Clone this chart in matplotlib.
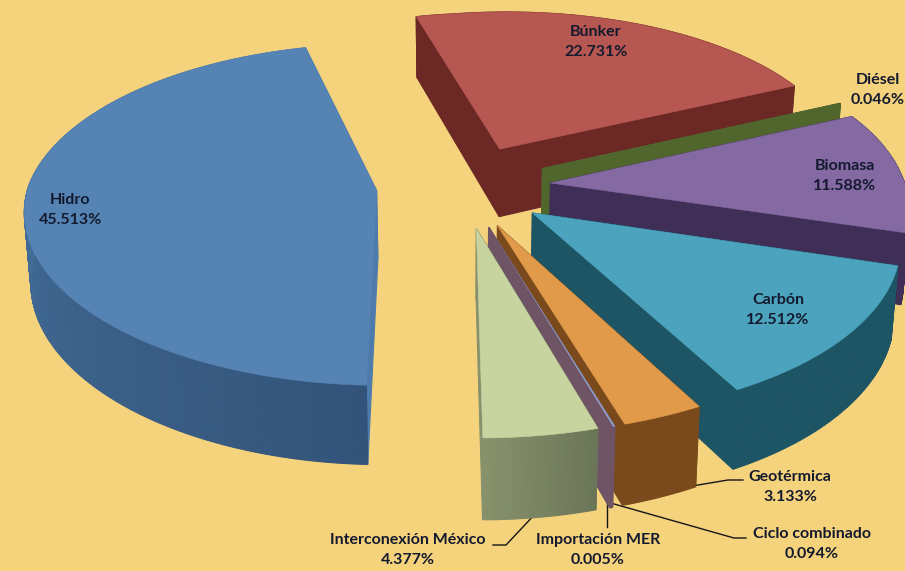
"""Exploded 3D pie of generation by source, drawn by hand on a pixel-sized axes."""

from __future__ import annotations

import matplotlib

matplotlib.use("Agg")
import matplotlib.colors as mcolors
import matplotlib.pyplot as plt
import numpy as np
from matplotlib.patches import Polygon

# shares in pie order, clockwise from the start angle
names = [
    "Búnker",
    "Diésel",
    "Biomasa",
    "Carbón",
    "Geotérmica",
    "Ciclo combinado",
    "Importación MER",
    "Interconexión México",
    "Hidro",
]
shares = [22.731, 0.046, 11.588, 12.512, 3.133, 0.094, 0.005, 4.377, 45.513]

BG = "#f5d27c"
TEXT = "#141a2e"

# name: top colour, wall colour at clockwise start, wall colour at clockwise end
STYLE = {
    "Búnker": ("#b65751", "#6b2824", "#6b2824"),
    "Diésel": ("#50662c", "#50662c", "#50662c"),
    "Biomasa": ("#8469a3", "#3f2f57", "#3f2f57"),
    "Carbón": ("#4ba3bd", "#1d5565", "#1d5565"),
    "Geotérmica": ("#e09a4a", "#7a4a1c", "#7a4a1c"),
    "Ciclo combinado": ("#8f9cc6", "#6f5466", "#6f5466"),
    "Importación MER": ("#6f5466", "#6f5466", "#6f5466"),
    "Interconexión México": ("#c7d4a0", "#6b7558", "#87926c"),
    "Hidro": ("#5583b4", "#33547a", "#5080ae"),
}
# the flat cut faces of Hidro catch the light, unlike its rim
CUT_FACE = {"Hidro": "#4d7cac"}

# painter's order, back to front
DRAW_ORDER = [
    "Hidro",
    "Búnker",
    "Diésel",
    "Biomasa",
    "Carbón",
    "Geotérmica",
    "Ciclo combinado",
    "Importación MER",
    "Interconexión México",
]

# projection of the pie plane onto pixels
CX, CY = 463.0, 186.0
RX, RY = 348.0, 166.0
PERSP = 0.142
START_DEG = -14.0
EXPLODE = 0.25


def project(gx, gy):
    w = 1 + PERSP * gy
    x = CX + RX * gx / w
    y = CY - RY * gy / w
    # the original view is turned a little: skew front and back differently
    x2 = x + np.where(y > CY, 0.10, 0.05) * (y - CY) + 0.008 * np.maximum(x - CX, 0)
    y2 = y - 0.025 * np.maximum(x - CX, 0)
    return x2, y2


def drop(x, y):
    """Lower edge of a wall below a top-face point."""
    return CX + (x - CX) * 0.985, y + 70 + (y - 200) * 0.05


def slice_outline(a0, a1, mid):
    n = max(2, int((a1 - a0) / 0.5) + 1)
    ang = np.radians(np.linspace(a0, a1, n))
    ox = EXPLODE * np.sin(np.radians(mid))
    oy = EXPLODE * np.cos(np.radians(mid))
    rim_x, rim_y = project(ox + np.sin(ang), oy + np.cos(ang))
    tip_x, tip_y = project(ox, oy)
    return (float(tip_x), float(tip_y)), rim_x, rim_y


def wall(ax, pts, color, z):
    ax.add_patch(Polygon(pts, closed=True, fc=color, ec=color, lw=0.8, zorder=z))


def draw_slice(ax, name, a0, a1, z):
    top, wall_a, wall_b = STYLE[name]
    (tx, ty), rx, ry = slice_outline(a0, a1, (a0 + a1) / 2)
    bx, by = drop(rx, ry)
    btx, bty = drop(tx, ty)

    # radial walls
    cut_a = CUT_FACE.get(name, wall_a)
    cut_b = CUT_FACE.get(name, wall_b)
    wall(ax, [(tx, ty), (rx[0], ry[0]), (bx[0], by[0]), (btx, bty)], cut_a, z)
    wall(ax, [(tx, ty), (rx[-1], ry[-1]), (bx[-1], by[-1]), (btx, bty)], cut_b, z)

    # rim wall in strips so the shading runs along the arc
    ca, cb = np.array(mcolors.to_rgb(wall_a)), np.array(mcolors.to_rgb(wall_b))
    for i in range(len(rx) - 1):
        t = i / max(1, len(rx) - 2)
        wall(
            ax,
            [(rx[i], ry[i]), (rx[i + 1], ry[i + 1]), (bx[i + 1], by[i + 1]), (bx[i], by[i])],
            tuple(ca + (cb - ca) * t),
            z + 0.1,
        )

    pts = [(tx, ty)] + list(zip(rx, ry))
    ax.add_patch(Polygon(pts, closed=True, fc=top, ec=top, lw=0.4, zorder=z + 0.2))


def main() -> int:
    fig = plt.figure(figsize=(9.05, 5.71), dpi=100, facecolor=BG)
    ax = fig.add_axes([0, 0, 1, 1])
    ax.set_xlim(0, 905)
    ax.set_ylim(571, 0)
    ax.axis("off")

    edges = START_DEG + np.concatenate([[0], np.cumsum(shares)]) / sum(shares) * 360.0
    spans = {n: (edges[i], edges[i + 1]) for i, n in enumerate(names)}
    for i, name in enumerate(DRAW_ORDER):
        draw_slice(ax, name, *spans[name], z=2 + i)

    # leader lines
    leaders = [
        ([656, 728, 743], [492, 480, 480]),
        ([607, 734, 746], [502, 538, 538]),
        ([607, 607], [502, 527]),
        ([537, 506, 493], [512, 545, 545]),
    ]
    for xs, ys in leaders:
        ax.plot(xs, ys, color="#15151a", lw=1.0, zorder=1)

    labels = [
        ("Hidro", 70, 200),
        ("Búnker", 596, 32),
        ("Diésel", 878, 80),
        ("Biomasa", 845, 166),
        ("Carbón", 778, 300),
        ("Geotérmica", 790, 477),
        ("Ciclo combinado", 812, 534),
        ("Importación MER", 598, 540),
        ("Interconexión México", 408, 540),
    ]
    for name, x, y in labels:
        pct = shares[names.index(name)]
        for txt, yy in ((name, y), (f"{pct:.3f}%", y + 20)):
            ax.text(
                x, yy, txt,
                ha="center", va="center",
                fontsize=11.5, fontweight="bold", family="Lato",
                color=TEXT, zorder=30,
            )

    fig.savefig("out.png", dpi=100, facecolor=BG)
    plt.close(fig)
    return 0


if __name__ == "__main__":
    raise SystemExit(main())
